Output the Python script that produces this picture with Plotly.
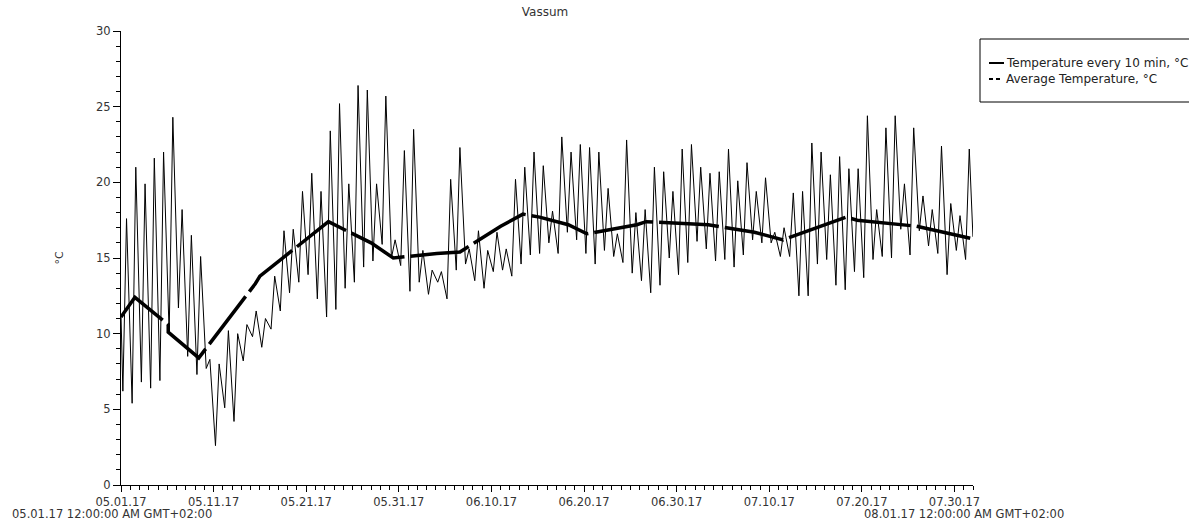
import pandas as pd
import plotly.graph_objects as go

# ---------------- data ----------------
TITLE = "Vassum"
Y_LABEL = "°C"
TEMP_NAME = "Temperature every 10 min, °C"
AVG_NAME = "Average Temperature, °C"

start_date = "2017-05-01"
end_date = "2017-08-01"

x_tick_dates = ["2017-05-01", "2017-05-11", "2017-05-21", "2017-05-31", "2017-06-10",
                "2017-06-20", "2017-06-30", "2017-07-10", "2017-07-20", "2017-07-30"]
x_tick_labels = ["05.01.17", "05.11.17", "05.21.17", "05.31.17", "06.10.17",
                 "06.20.17", "06.30.17", "07.10.17", "07.20.17", "07.30.17"]
y_tick_values = [0, 5, 10, 15, 20, 25, 30]

range_note_left = "05.01.17 12:00:00 AM GMT+02:00"
range_note_right = "08.01.17 12:00:00 AM GMT+02:00"

# daily minimum (early morning) and maximum (afternoon) of the 10-min readings, 05.01 .. 07.31
daily_min = [6.2, 5.4, 6.8, 6.4, 6.9, 10.0, 11.7, 8.5, 7.3, 7.7,
             2.6, 5.1, 4.2, 8.2, 9.8, 9.1, 10.3, 11.5, 12.7, 13.4,
             13.9, 12.3, 11.1, 11.6, 13.0, 13.4, 14.4, 14.8, 15.9, 15.0,
             14.5, 12.8, 13.4, 12.6, 13.4, 12.3, 14.2, 14.6, 13.5, 13.0,
             14.1, 14.2, 13.8, 14.6, 15.2, 15.3, 16.0, 15.3, 16.7, 16.2,
             15.3, 14.6, 15.5, 15.1, 14.7, 14.0, 13.5, 12.7, 13.2, 15.0,
             13.9, 14.7, 16.1, 15.6, 14.8, 14.9, 14.4, 15.2, 16.2, 16.0,
             16.0, 15.1, 15.1, 12.5, 12.5, 14.6, 14.9, 13.2, 12.9, 14.1,
             13.7, 14.9, 15.1, 15.0, 16.9, 15.2, 16.8, 15.8, 15.3, 13.9,
             15.5, 14.9]
daily_max = [17.6, 21.0, 19.9, 21.6, 22.0, 24.3, 18.2, 16.5, 15.1, 8.3,
             8.0, 10.2, 10.0, 10.6, 11.5, 11.0, 13.8, 16.8, 16.9, 19.4,
             20.6, 19.4, 23.4, 25.2, 19.9, 26.4, 26.1, 19.9, 25.7, 16.2,
             22.1, 23.5, 15.5, 14.2, 14.1, 20.2, 22.3, 15.6, 16.8, 15.5,
             16.7, 15.6, 20.2, 21.0, 22.0, 21.1, 18.1, 23.0, 22.0, 22.5,
             22.3, 22.0, 19.6, 16.6, 22.8, 18.0, 18.2, 21.0, 20.7, 19.4,
             22.2, 22.5, 21.0, 20.6, 20.7, 22.2, 20.1, 21.3, 19.4, 20.3,
             16.7, 17.0, 19.3, 19.4, 22.6, 22.0, 20.5, 21.7, 20.9, 20.9,
             24.4, 18.2, 23.6, 24.4, 19.9, 23.6, 19.1, 18.2, 22.4, 18.6,
             17.8, 22.2]
first_reading = 11.2
last_reading = 16.4

avg_times = ["2017-05-01 00:00", "2017-05-02 12:00", "2017-05-06 02:24", "2017-05-06 02:24",
             "2017-05-09 09:36", "2017-05-11 07:12", "2017-05-15 12:00", "2017-05-16 00:00",
             "2017-05-21 09:36", "2017-05-23 09:36", "2017-05-28 00:00", "2017-05-30 09:36",
             "2017-06-04 02:24", "2017-06-06 14:24", "2017-06-11 00:00", "2017-06-13 09:36",
             "2017-06-15 04:48", "2017-06-18 07:12", "2017-06-20 07:12", "2017-06-25 16:48",
             "2017-06-26 16:48", "2017-07-03 09:36", "2017-07-08 09:36", "2017-07-11 12:00",
             "2017-07-18 07:12", "2017-07-19 12:00", "2017-07-25 21:36", "2017-07-31 16:48"]
avg_values = [11.1, 12.4, 10.6, 10.1, 8.4, 9.9, 13.3, 13.8, 16.4, 17.4, 16.0, 15.0,
              15.3, 15.4, 17.1, 17.9, 17.7, 17.2, 16.6, 17.2, 17.4, 17.2, 16.7, 16.2,
              17.7, 17.5, 17.1, 16.3]

# ---------------- build series ----------------
days = pd.date_range(start_date, periods=len(daily_max), freq="D")
t_times = [pd.Timestamp(start_date)]
t_vals = [first_reading]
for d, lo, hi in zip(days, daily_min, daily_max):
    t_times += [d + pd.Timedelta(hours=4, minutes=50), d + pd.Timedelta(hours=14, minutes=20)]
    t_vals += [lo, hi]
t_times.append(days[-1] + pd.Timedelta(hours=23, minutes=50))
t_vals.append(last_reading)

# ---------------- geometry helpers ----------------
W, H = 1189, 520
ML, MR, MT, MB = 121, 216, 31, 35
PW, PH = W - ML - MR, H - MT - MB


def fx(px):
    return (px - ML) / PW


def fy(py):
    return (H - MB - py) / PH


FONT = "DejaVu Sans"
TXT = "#333333"
FS = 11.5

fig = go.Figure()
fig.add_trace(go.Scatter(x=t_times, y=t_vals, mode="lines", name=TEMP_NAME,
                         line=dict(color="black", width=1), showlegend=False))
fig.add_trace(go.Scatter(x=avg_times, y=avg_values, mode="lines", name=AVG_NAME,
                         line=dict(color="black", width=3.5, dash="60px,6px"),
                         showlegend=False))

fig.update_layout(
    width=W, height=H,
    margin=dict(l=ML, r=MR, t=MT, b=MB, autoexpand=False),
    plot_bgcolor="white", paper_bgcolor="white",
    font=dict(family=FONT, size=FS, color=TXT),
    showlegend=False,
    title=dict(text=TITLE, x=fx(545), xref="paper", xanchor="center",
               y=1 - 12 / H, yref="container", yanchor="middle",
               font=dict(family=FONT, size=12, color=TXT)),
)

fig.update_xaxes(
    type="date", range=[start_date, end_date],
    tickmode="array", tickvals=x_tick_dates, ticktext=x_tick_labels,
    ticks="outside", ticklen=6, tickwidth=1, tickcolor="black",
    showline=True, linecolor="black", linewidth=1,
    showgrid=False, zeroline=False,
    tickfont=dict(family=FONT, size=FS, color=TXT),
    minor=dict(dtick=86400000, tick0=start_date, ticks="outside", ticklen=4,
               tickcolor="black", tickwidth=1, showgrid=False),
)
fig.update_yaxes(
    range=[0, 30], tickmode="array", tickvals=y_tick_values,
    ticks="outside", ticklen=7, tickwidth=1, tickcolor="black",
    showline=True, linecolor="black", linewidth=1,
    showgrid=False, zeroline=False,
    tickfont=dict(family=FONT, size=FS, color=TXT),
    minor=dict(dtick=1, ticks="outside", ticklen=4, tickcolor="black",
               tickwidth=1, showgrid=False),
    title=dict(text=Y_LABEL, standoff=30, font=dict(family=FONT, size=11, color=TXT)),
)

# range notes under the axis
fig.add_annotation(text=range_note_left, xref="paper", yref="paper",
                   x=fx(10), y=fy(513.5), xanchor="left", yanchor="middle",
                   showarrow=False, font=dict(family=FONT, size=FS, color=TXT))
fig.add_annotation(text=range_note_right, xref="paper", yref="paper",
                   x=fx(862), y=fy(513.5), xanchor="left", yanchor="middle",
                   showarrow=False, font=dict(family=FONT, size=FS, color=TXT))

# legend box (drawn)
fig.add_shape(type="rect", xref="paper", yref="paper",
              x0=fx(980), x1=fx(1205), y0=fy(39), y1=fy(102),
              line=dict(color="black", width=1), fillcolor="white", layer="above")
fig.add_shape(type="line", xref="paper", yref="paper",
              x0=fx(989), x1=fx(1004), y0=fy(63), y1=fy(63),
              line=dict(color="black", width=2))
fig.add_shape(type="line", xref="paper", yref="paper",
              x0=fx(989), x1=fx(1002), y0=fy(79), y1=fy(79),
              line=dict(color="black", width=2, dash="4px,3px"))
fig.add_annotation(text=TEMP_NAME, xref="paper", yref="paper",
                   x=fx(1004), y=fy(63), xanchor="left", yanchor="middle",
                   showarrow=False, font=dict(family=FONT, size=12, color="#222222"))
fig.add_annotation(text=AVG_NAME, xref="paper", yref="paper",
                   x=fx(1004), y=fy(79), xanchor="left", yanchor="middle",
                   showarrow=False, font=dict(family=FONT, size=12, color="#222222"))

fig.write_html("out.html",
               config={"displayModeBar": False},
               post_script="document.body.style.margin='0';"
                           "document.body.style.overflow='hidden';")
